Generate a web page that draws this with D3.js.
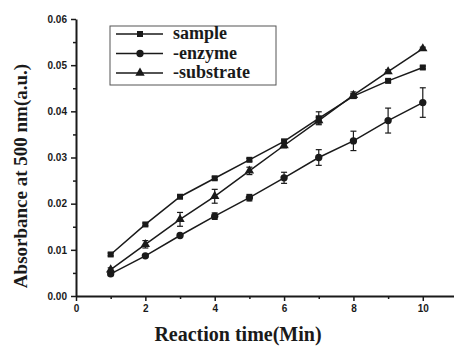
<!DOCTYPE html>
<html lang="en">
<head>
  <script src="https://d3js.org/d3.v7.min.js"></script>
  <style>
    body { margin: 0; background: #fff; }
    svg { display: block; }
    .serif { font-family: "Liberation Serif", "Times New Roman", serif; font-weight: bold; }
  </style>
</head>
<body>
  <svg width="454" height="346"></svg>
  <script>
    // reaction time (min)
    var time = [1, 2, 3, 4, 5, 6, 7, 8, 9, 10];
    var sample = [0.0090, 0.0155, 0.0215, 0.0255, 0.0295, 0.0335, 0.0385, 0.0433, 0.0466, 0.0495];
    var sampleErr = [0.0003, 0.0003, 0.0003, 0.0003, 0.0003, 0.0003, 0.0014, 0.0005, 0.0003, 0.0003];
    var enzyme = [0.0048, 0.0087, 0.0131, 0.0173, 0.0213, 0.0256, 0.0300, 0.0336, 0.0380, 0.0419];
    var enzymeErr = [0.0004, 0.0003, 0.0004, 0.0007, 0.0007, 0.0012, 0.0017, 0.0021, 0.0027, 0.0032];
    var substrate = [0.0057, 0.0112, 0.0166, 0.0216, 0.0271, 0.0326, 0.0380, 0.0435, 0.0486, 0.0536];
    var substrateErr = [0.0004, 0.0008, 0.0015, 0.0015, 0.0008, 0.0005, 0.0007, 0.0007, 0.0004, 0.0003];
    var seriesNames = ["sample", "-enzyme", "-substrate"];
    var xTicks = [0, 2, 4, 6, 8, 10];
    var yTicks = [0, 0.01, 0.02, 0.03, 0.04, 0.05, 0.06];

    var svg = d3.select("svg");
    var ink = "#1a1a1a";
    var x = d3.scaleLinear().domain([0, 10.9]).range([76, 454]);
    var y = d3.scaleLinear().domain([0, 0.06]).range([296, 19]);

    // minor ticks first, then the major axes on top
    svg.append("g").attr("transform", "translate(0,296)")
      .call(d3.axisBottom(x).tickValues([1, 3, 5, 7, 9]).tickSize(3).tickFormat(""))
      .call(g => g.select(".domain").remove());
    svg.append("g").attr("transform", "translate(76,0)")
      .call(d3.axisLeft(y).tickValues(d3.range(0.005, 0.06, 0.01)).tickSize(3).tickFormat(""))
      .call(g => g.select(".domain").remove());

    var xAxis = svg.append("g").attr("transform", "translate(0,296)")
      .call(d3.axisBottom(x).tickValues(xTicks).tickSize(5).tickSizeOuter(0).tickPadding(4).tickFormat(d3.format("d")));
    var yAxis = svg.append("g").attr("transform", "translate(76,0)")
      .call(d3.axisLeft(y).tickValues(yTicks).tickSize(5).tickSizeOuter(0).tickPadding(4).tickFormat(d3.format(".2f")));

    svg.selectAll(".tick line").attr("stroke", ink).attr("stroke-width", 1.5);
    svg.selectAll(".domain").attr("stroke", ink).attr("stroke-width", 2);
    svg.selectAll(".tick text").attr("fill", ink)
      .style("font-family", "'Liberation Sans', Arial, sans-serif")
      .style("font-weight", "bold").style("font-size", "10px");

    svg.append("text").attr("class", "serif")
      .attr("transform", "translate(27,176) rotate(-90)")
      .attr("text-anchor", "middle").attr("fill", ink)
      .style("font-size", "19px")
      .text("Absorbance at 500 nm(a.u.)");
    svg.append("text").attr("class", "serif")
      .attr("x", 238).attr("y", 341)
      .attr("text-anchor", "middle").attr("fill", ink)
      .style("font-size", "20px")
      .text("Reaction time(Min)");

    var sets = [
      { vals: sample, err: sampleErr, shape: d3.symbolSquare, size: 36 },
      { vals: enzyme, err: enzymeErr, shape: d3.symbolCircle, size: 42 },
      { vals: substrate, err: substrateErr, shape: d3.symbolTriangle, size: 38 }
    ];
    var line = d3.line().x(d => x(d.t)).y(d => y(d.v));

    sets.forEach(function (s) {
      var pts = time.map((t, i) => ({ t: t, v: s.vals[i], e: s.err[i] }));
      var g = svg.append("g");
      g.append("path").datum(pts).attr("d", line)
        .attr("fill", "none").attr("stroke", ink).attr("stroke-width", 1.5);
      var eb = g.selectAll(".eb").data(pts).enter().append("g");
      eb.append("line")
        .attr("x1", d => x(d.t)).attr("x2", d => x(d.t))
        .attr("y1", d => y(d.v - d.e)).attr("y2", d => y(d.v + d.e))
        .attr("stroke", ink).attr("stroke-width", 1.2);
      [-1, 1].forEach(function (k) {
        eb.append("line")
          .attr("x1", d => x(d.t) - 3).attr("x2", d => x(d.t) + 3)
          .attr("y1", d => y(d.v + k * d.e)).attr("y2", d => y(d.v + k * d.e))
          .attr("stroke", ink).attr("stroke-width", 1.2);
      });
      g.selectAll(".pt").data(pts).enter().append("path")
        .attr("transform", d => "translate(" + x(d.t) + "," + y(d.v) + ")")
        .attr("d", d3.symbol().type(s.shape).size(s.size))
        .attr("fill", ink);
    });

    // legend
    var lg = svg.append("g");
    lg.append("rect").attr("x", 110).attr("y", 26).attr("width", 166).attr("height", 59)
      .attr("fill", "none").attr("stroke", "#555").attr("stroke-width", 1);
    var rowY = d3.scalePoint().domain(seriesNames).range([34, 73]);
    seriesNames.forEach(function (name, i) {
      var ry = rowY(name);
      lg.append("line").attr("x1", 116).attr("x2", 163).attr("y1", ry).attr("y2", ry)
        .attr("stroke", ink).attr("stroke-width", 1.5);
      lg.append("path").attr("transform", "translate(140," + ry + ")")
        .attr("d", d3.symbol().type(sets[i].shape).size(sets[i].size)).attr("fill", ink);
      lg.append("text").attr("class", "serif").attr("x", 173).attr("y", ry + 5).attr("fill", ink)
        .style("font-size", "18px")
        .text(name);
    });
  </script>
</body>
</html>
